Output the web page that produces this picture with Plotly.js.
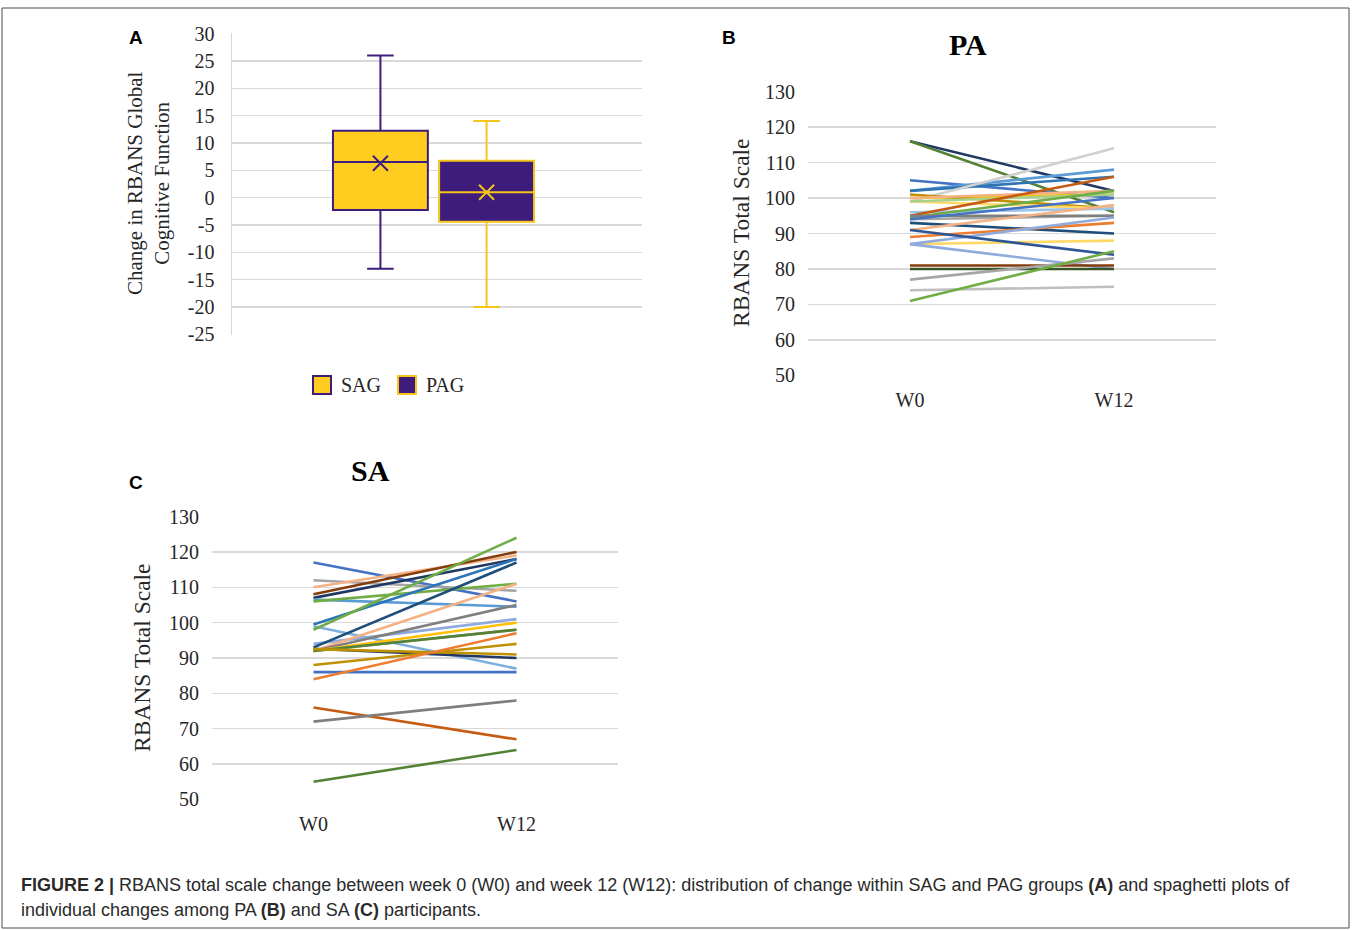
<!DOCTYPE html>
<html>
<head>
<meta charset="utf-8">
<script src="https://cdn.plot.ly/plotly-3.0.1.min.js"></script>
<style>html,body{margin:0;padding:0;background:#fff;}#chart{width:1352px;height:930px;}</style>
</head>
<body>
<div id="chart"></div>
<script>
// ---------- Panel A data (box statistics of change) ----------
const GROUPS = ['SAG', 'PAG'];
const UPPER  = [26, 14];
const Q3     = [12.25, 6.75];
const MEDIAN = [6.5, 1];
const MEAN   = [6.3, 1];
const Q1     = [-2.25, -4.4];
const LOWER  = [-13, -20];
const A_TICKS = [30, 25, 20, 15, 10, 5, 0, -5, -10, -15, -20, -25];

// ---------- Panels B / C data (spaghetti) ----------
const WEEKS = ['W0', 'W12'];
const BC_TICKS = [50, 60, 70, 80, 90, 100, 110, 120, 130];
const PA_W0  = [116, 116, 105, 102, 102, 99, 100, 101, 99, 100, 99, 96, 95, 94.5, 94, 95, 93, 91, 89, 87, 87, 91, 87, 81, 80, 77, 74, 71, 94];
const PA_W12 = [102, 96, 100, 108, 106, 114, 101, 97, 97, 102, 101, 97, 106, 102, 95, 95, 90, 98, 93, 88, 94.5, 84, 80, 81, 80, 83, 75, 85, 100];
const SA_W0  = [117, 112, 110, 108, 107, 106.5, 106, 99.5, 99, 98, 94, 93, 92.6, 92, 92, 92, 92, 92, 92.5, 88, 86, 84, 76, 72, 55];
const SA_W12 = [106, 109, 119, 120, 118, 104.5, 111, 118, 87, 124, 101, 117, 90, 111, 105, 100, 98, 98, 91, 94, 86, 97, 67, 78, 64];

// ---------- Styles ----------
const PA_COLORS = ['#1F3864','#548235','#4472C4','#5B9BD5','#2E75B6','#D0D0D0','#FFC000','#BF9000','#FFD966','#F4B183',
  '#A9D18E','#9DC3E6','#C55A11','#70AD47','#A5A5A5','#7F7F7F','#1F4E79','#F4B183','#ED7D31','#FFD966',
  '#8FAADC','#2F5597','#8FAADC','#843C0C','#375623','#A5A5A5','#BFBFBF','#70AD47','#4472C4'];
const SA_COLORS = ['#4472C4','#A5A5A5','#F4B183','#843C0C','#1F3864','#5B9BD5','#70AD47','#2E75B6','#7CAFDD','#70AD47',
  '#8FAADC','#1F4E79','#203864','#F4B183','#7F7F7F','#FFC000','#A5A5A5','#548235','#BF9000','#BF9000',
  '#4472C4','#ED7D31','#C55A11','#7F7F7F','#548235'];
const GOLD = '#FFCD1F', PURPLE = '#3E1C7C';
const BOX_FILL = [GOLD, PURPLE];
const BOX_LINE = [PURPLE, '#F5C518'];

const W = 1352, H = 930;
const px = x => x / W, py = y => 1 - y / H;
const SERIF = 'Liberation Serif, Times New Roman, serif';
const SANS = 'Liberation Sans, Arial, sans-serif';
const GRID = '#D9D9D9';

const traces = [];
GROUPS.forEach((g, i) => {
  traces.push({
    type: 'box', name: g, x: [g],
    q1: [Q1[i]], median: [MEDIAN[i]], q3: [Q3[i]],
    lowerfence: [LOWER[i]], upperfence: [UPPER[i]],
    width: 0.894, whiskerwidth: 0.28,
    fillcolor: BOX_FILL[i], line: {color: BOX_LINE[i], width: 2},
    boxpoints: false, hoverinfo: 'skip',
    xaxis: 'x', yaxis: 'y', showlegend: false
  });
});
GROUPS.forEach((g, i) => {
  traces.push({
    type: 'scatter', mode: 'markers', x: [g], y: [MEAN[i]],
    marker: {symbol: 'x-thin', size: 15, line: {width: 2, color: BOX_LINE[i]}},
    xaxis: 'x', yaxis: 'y', showlegend: false, hoverinfo: 'skip'
  });
});
PA_W0.forEach((v, i) => {
  traces.push({
    type: 'scatter', mode: 'lines', x: WEEKS, y: [v, PA_W12[i]],
    line: {color: PA_COLORS[i % PA_COLORS.length], width: 2.6},
    xaxis: 'x2', yaxis: 'y2', showlegend: false, hoverinfo: 'skip'
  });
});
SA_W0.forEach((v, i) => {
  traces.push({
    type: 'scatter', mode: 'lines', x: WEEKS, y: [v, SA_W12[i]],
    line: {color: SA_COLORS[i % SA_COLORS.length], width: 2.6},
    xaxis: 'x3', yaxis: 'y3', showlegend: false, hoverinfo: 'skip'
  });
});

const tickFont = {family: SERIF, size: 20, color: '#262626'};
const yBase = {showgrid: true, gridcolor: GRID, gridwidth: 1.5, zeroline: false, ticks: '',
  tickfont: tickFont, ticklabelstandoff: 12, fixedrange: true, tickmode: 'array'};
const xCat = {type: 'category', categoryarray: WEEKS, range: [-0.5, 1.5], showgrid: false, zeroline: false,
  showline: false, ticks: '', tickfont: {family: SERIF, size: 20, color: '#262626'}, ticklabelstandoff: 10};

// manual legend for panel A (large square keys)
const legendShapes = [];
const legendAnn = [];
const LEG_X = [313, 398];
GROUPS.forEach((g, i) => {
  legendShapes.push({type: 'rect', xref: 'paper', yref: 'paper',
    x0: px(LEG_X[i]), x1: px(LEG_X[i] + 18), y0: py(394), y1: py(376),
    fillcolor: BOX_FILL[i], line: {color: BOX_LINE[i], width: 2}});
  legendAnn.push({text: g, x: px(LEG_X[i] + 26), y: py(385), xanchor: 'left',
    font: {family: SERIF, size: 20, color: '#262626'}});
});

const layout = {
  width: W, height: H, margin: {l: 0, r: 0, t: 0, b: 0},
  paper_bgcolor: '#fff', plot_bgcolor: 'rgba(0,0,0,0)',
  showlegend: false,
  xaxis: {domain: [px(232), px(642)], type: 'category', categoryarray: GROUPS, range: [-1.398, 2.464],
    showgrid: false, zeroline: false, showticklabels: false, ticks: '', showline: false},
  yaxis: Object.assign({}, yBase, {domain: [py(335), py(33)], range: [-25.1, 30.1],
    tickvals: A_TICKS, ticktext: A_TICKS.map(String),
    showline: true, linecolor: GRID, linewidth: 1.5}),
  xaxis2: Object.assign({}, xCat, {domain: [px(808), px(1216)], anchor: 'y2'}),
  yaxis2: Object.assign({}, yBase, {domain: [py(376), py(91)], range: [49.85, 130.15],
    tickvals: BC_TICKS, ticktext: BC_TICKS.map(String), anchor: 'x2'}),
  xaxis3: Object.assign({}, xCat, {domain: [px(212), px(618)], anchor: 'y3'}),
  yaxis3: Object.assign({}, yBase, {domain: [py(800), py(516)], range: [49.85, 130.15],
    tickvals: BC_TICKS, ticktext: BC_TICKS.map(String), anchor: 'x3'}),
  shapes: [
    {type: 'rect', xref: 'paper', yref: 'paper', x0: px(2), x1: px(1349), y0: py(928), y1: py(8),
      line: {color: '#4d4d4d', width: 1}, fillcolor: 'rgba(0,0,0,0)', layer: 'below'}
  ].concat(legendShapes),
  annotations: [
    {text: '<b>A</b>', x: px(136), y: py(37), font: {family: SANS, size: 19, color: '#000'}},
    {text: '<b>B</b>', x: px(729), y: py(37), font: {family: SANS, size: 19, color: '#000'}},
    {text: '<b>C</b>', x: px(136), y: py(482), font: {family: SANS, size: 19, color: '#000'}},
    {text: '<b>PA</b>', x: px(968), y: py(45), font: {family: SERIF, size: 30, color: '#000'}},
    {text: '<b>SA</b>', x: px(370), y: py(470), font: {family: SERIF, size: 30, color: '#000'}},
    {text: 'Change in RBANS Global<br>Cognitive Function', x: px(148), y: py(183), textangle: -90,
      font: {family: SERIF, size: 21, color: '#262626'}},
    {text: 'RBANS Total Scale', x: px(741), y: py(233), textangle: -90, font: {family: SERIF, size: 23.5, color: '#262626'}},
    {text: 'RBANS Total Scale', x: px(142), y: py(658), textangle: -90, font: {family: SERIF, size: 23.5, color: '#262626'}},
    {text: '<b>FIGURE 2 |</b> RBANS total scale change between week 0 (W0) and week 12 (W12): distribution of change within SAG and PAG groups <b>(A)</b> and spaghetti plots of',
      x: px(19), y: py(885), xanchor: 'left', font: {family: SANS, size: 18, color: '#2a2a2a'}},
    {text: 'individual changes among PA <b>(B)</b> and SA <b>(C)</b> participants.',
      x: px(19), y: py(910), xanchor: 'left', font: {family: SANS, size: 18, color: '#2a2a2a'}}
  ].concat(legendAnn).map(a => Object.assign({xref: 'paper', yref: 'paper', showarrow: false, xanchor: 'center', yanchor: 'middle'}, a))
};

Plotly.newPlot('chart', traces, layout, {staticPlot: true, displayModeBar: false});
</script>
</body>
</html>
